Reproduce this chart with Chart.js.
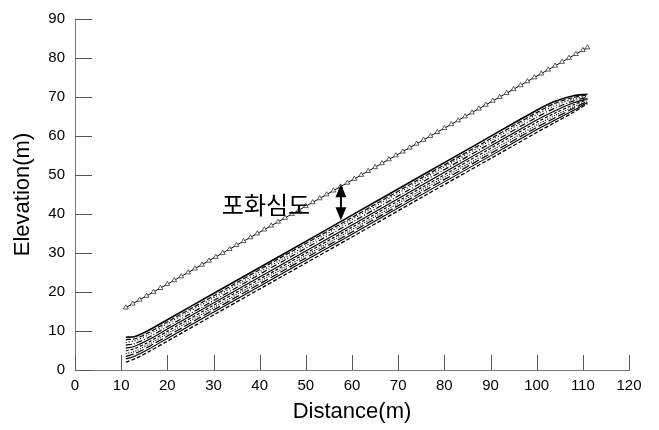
<!DOCTYPE html>
<html>
<head>
<meta charset="utf-8">
<script src="https://cdn.jsdelivr.net/npm/chart.js@4"></script>
<style>
html,body{margin:0;padding:0;background:#fff;}
#wrap{width:659px;height:430px;position:relative;}
</style>
</head>
<body>
<div id="wrap"><canvas id="c" width="659" height="430"></canvas></div>
<script>
// ground surface (triangle markers)
const groundDist = [11,12.5,14,15.5,17,18.5,20,21.5,23,24.5,26,27.5,29,30.5,32,33.5,35,36.5,38,39.5,41,42.5,44,45.5,47,48.5,50,51.5,53,54.5,56,57.5,59,60.5,62,63.5,65,66.5,68,69.5,71,72.5,74,75.5,77,78.5,80,81.5,83,84.5,86,87.5,89,90.5,92,93.5,95,96.5,98,99.5,101,102.5,104,105.5,107,108.5,110,111];
const groundElev = [16,17,18,19,20,21,22,23,24,25,26,27,28,29,30,31,32,33,34,35,36,37,38,39,40,41,42,43,44,45,46,47,48,49,50,51,52,53,54,55,56,57,58,59,60,61,62,63,64,65,66,67,68,69,70,71,72,73,74,75,76,77,78,79,80,81,82,82.7];

// water-table lines
const wtDist = [11,13,16,20,30,45,60,75,90,100,104,108,111];
const wt1  = [8.4,8.6,10.2,12.9,19.6,29.6,39.7,49.8,59.9,66.6,68.9,70.3,70.7];
const wt2  = [7.8,8.0,9.6,12.3,19.0,29.1,39.1,49.2,59.3,66.0,68.4,69.9,70.5];
const wt3  = [7.1,7.5,9.1,11.8,18.5,28.5,38.6,48.7,58.8,65.5,67.8,69.5,70.2];
const wt4  = [6.4,6.8,8.4,11.1,17.8,27.9,37.9,48.0,58.1,64.8,67.2,69.0,70.0];
const wt5  = [5.6,6.1,7.8,10.5,17.2,27.2,37.2,47.3,57.4,64.1,66.5,68.5,69.6];
const wt6  = [4.9,5.5,7.2,9.9,16.6,26.6,36.6,46.7,56.8,63.5,65.9,68.0,69.4];
const wt7  = [4.2,4.8,6.6,9.3,16.0,26.0,36.0,46.1,56.1,62.8,65.3,67.5,69.1];
const wt8  = [3.5,4.2,6.0,8.7,15.4,25.4,35.4,45.5,55.5,62.2,64.7,67.1,68.9];
const wt9  = [2.8,3.6,5.4,8.1,14.8,24.8,34.8,44.9,54.9,61.6,64.1,66.6,68.6];
const wt10 = [2.0,2.9,4.7,7.4,14.1,24.1,34.1,44.2,54.2,60.9,63.5,66.1,68.3];
const wtSeries = [wt1,wt2,wt3,wt4,wt5,wt6,wt7,wt8,wt9,wt10];

// axis ticks
const xTicks = [0,10,20,30,40,50,60,70,80,90,100,110,120];
const yTicks = [0,10,20,30,40,50,60,70,80,90];

// annotation
const labelText = '포화심도';
const labelPos = [31.8, 42.3];
const arrowX = 57.6;
const arrowYs = [47.6, 38.4];

const dashes = [[], [5,2], [1,2], [6,2,1,2], [], [3,2], [1,1.5], [8,3], [], [4,2]];
const widths = [1.6, 1.2, 1.2, 1.2, 1.1, 1.2, 1.2, 1.2, 1.1, 1.3];
const toXY = (xs, ys) => xs.map((x,i)=>({x:x, y:ys[i]}));

const datasets = [];
wtSeries.forEach((s, i) => {
  datasets.push({
    data: toXY(wtDist, s),
    borderColor: '#000',
    borderWidth: widths[i],
    borderDash: dashes[i],
    pointRadius: 0,
    tension: 0.3,
    fill: false
  });
});
datasets.push({
  data: toXY(groundDist, groundElev),
  borderColor: '#000',
  borderWidth: 1,
  pointStyle: 'triangle',
  pointRadius: 2.8,
  pointBorderWidth: 0.8,
  pointBorderColor: '#333',
  pointBackgroundColor: '#fff',
  tension: 0,
  fill: false
});

const innerTicks = {
  id: 'innerTicks',
  afterDatasetsDraw(chart) {
    const {ctx, chartArea, scales} = chart;
    ctx.save();
    ctx.strokeStyle = '#555';
    ctx.lineWidth = 1;
    ctx.beginPath();
    yTicks.forEach(v => {
      const p = Math.round(scales.y.getPixelForValue(v)) + 0.5;
      ctx.moveTo(chartArea.left, p); ctx.lineTo(chartArea.left + 17, p);
    });
    xTicks.forEach(v => {
      const p = Math.round(scales.x.getPixelForValue(v)) + 0.5;
      ctx.moveTo(p, chartArea.bottom); ctx.lineTo(p, chartArea.bottom - 15);
    });
    ctx.stroke();

    // label
    ctx.fillStyle = '#000';
    ctx.font = '24px "Noto Sans CJK KR"';
    ctx.textAlign = 'left';
    ctx.textBaseline = 'middle';
    ctx.fillText(labelText, scales.x.getPixelForValue(labelPos[0]), scales.y.getPixelForValue(labelPos[1]));

    // double arrow
    const ax = scales.x.getPixelForValue(arrowX);
    const y1 = scales.y.getPixelForValue(arrowYs[0]);
    const y2 = scales.y.getPixelForValue(arrowYs[1]);
    ctx.strokeStyle = '#000';
    ctx.lineWidth = 2;
    ctx.beginPath();
    ctx.moveTo(ax, y1 + 6); ctx.lineTo(ax, y2 - 6);
    ctx.stroke();
    ctx.beginPath();
    ctx.moveTo(ax, y1); ctx.lineTo(ax - 5.5, y1 + 13); ctx.lineTo(ax + 5.5, y1 + 13); ctx.closePath();
    ctx.moveTo(ax, y2); ctx.lineTo(ax - 5.5, y2 - 13); ctx.lineTo(ax + 5.5, y2 - 13); ctx.closePath();
    ctx.fill();
    ctx.restore();
  }
};

const tickFont = {family: '"Liberation Sans", Arial, sans-serif', size: 15};
const titleFont = {family: '"Liberation Sans", Arial, sans-serif', size: 22};

new Chart(document.getElementById('c'), {
  type: 'line',
  data: {datasets},
  options: {
    responsive: false,
    animation: false,
    layout: {padding: {top: 15, right: 30, left: 0, bottom: 0}},
    plugins: {legend: {display: false}, tooltip: {enabled: false}},
    scales: {
      x: {
        type: 'linear', min: 0, max: 120,
        afterBuildTicks: s => { s.ticks = xTicks.map(v => ({value: v})); },
        grid: {display: false, drawTicks: false},
        border: {display: true, color: '#777', width: 1},
        ticks: {font: tickFont, color: '#000', padding: 7, maxRotation: 0, autoSkip: false},
        title: {display: true, text: 'Distance(m)', font: titleFont, color: '#000', padding: {top: 0, bottom: 5}},
        afterFit: s => { s.height = 60; }
      },
      y: {
        type: 'linear', min: 0, max: 90,
        afterBuildTicks: s => { s.ticks = yTicks.map(v => ({value: v})); },
        grid: {display: false, drawTicks: false},
        border: {display: true, color: '#777', width: 1},
        ticks: {font: tickFont, color: '#000', padding: 10, autoSkip: false},
        title: {display: true, text: 'Elevation(m)', font: titleFont, color: '#000', padding: {top: 10, bottom: 0}},
        afterFit: s => { s.width = 75; }
      }
    }
  },
  plugins: [innerTicks]
});
</script>
</body>
</html>
